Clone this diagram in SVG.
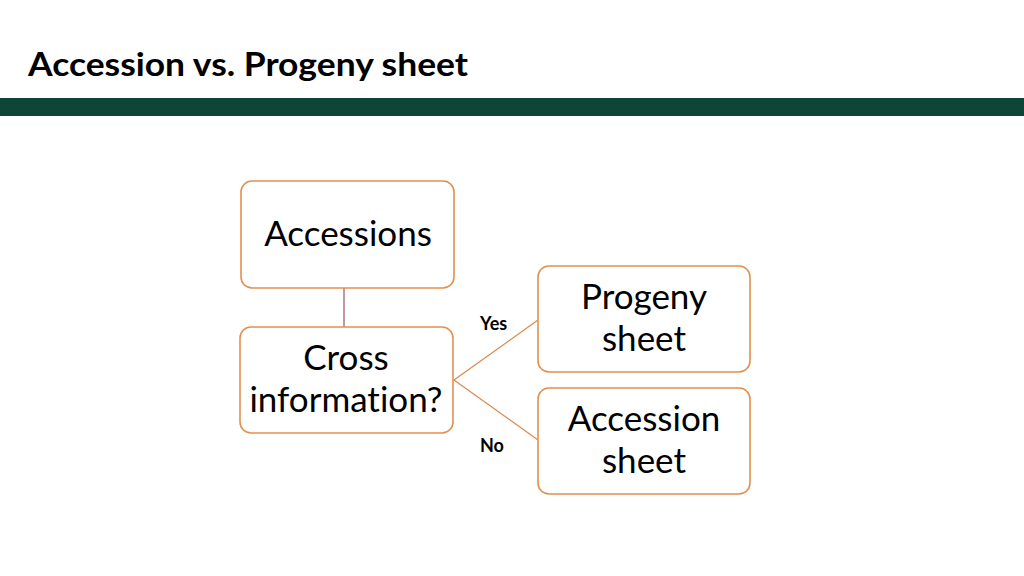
<svg xmlns="http://www.w3.org/2000/svg" width="1024" height="576" viewBox="0 0 1024 576">
<style>
.t{font-family:Lato,"Open Sans","Liberation Sans",sans-serif;fill:#000;font-variant-ligatures:none}
.box{fill:#fff;stroke:#E3904E;stroke-width:1.6}
.lbl{font-size:35px;text-anchor:middle}
.e{stroke:#DD8A4F;stroke-width:1.3;fill:none}
.s{font-size:18px;font-weight:bold}
</style>
<rect width="1024" height="576" fill="#fff"/>
<text class="t" x="28" y="76" font-size="32" font-weight="bold" textLength="440" lengthAdjust="spacingAndGlyphs">Accession vs. Progeny sheet</text>
<rect x="0" y="98" width="1024" height="18" fill="#0D4536"/>
<g id="connectors">
<line x1="344" y1="288" x2="344" y2="327" stroke="#A0607A" stroke-width="1.3"/>
<line class="e" x1="454" y1="380" x2="538" y2="320"/>
<line class="e" x1="454" y1="380" x2="538" y2="440"/>
<text class="t s" x="480" y="330">Yes</text>
<text class="t s" x="480" y="452">No</text>
</g>
<g id="accessions">
<rect class="box" x="241" y="181" width="213" height="107" rx="11"/>
<text class="t lbl" x="348" y="246">Accessions</text>
</g>
<g id="cross">
<rect class="box" x="240" y="327" width="213" height="106" rx="11"/>
<text class="t lbl" x="346" y="370">Cross</text>
<text class="t lbl" x="346" y="412">information?</text>
</g>
<g id="progeny">
<rect class="box" x="538" y="266" width="212" height="106" rx="11"/>
<text class="t lbl" x="644" y="309">Progeny</text>
<text class="t lbl" x="644" y="351">sheet</text>
</g>
<g id="accession-sheet">
<rect class="box" x="538" y="388" width="212" height="106" rx="11"/>
<text class="t lbl" x="644" y="431">Accession</text>
<text class="t lbl" x="644" y="473">sheet</text>
</g>
</svg>
